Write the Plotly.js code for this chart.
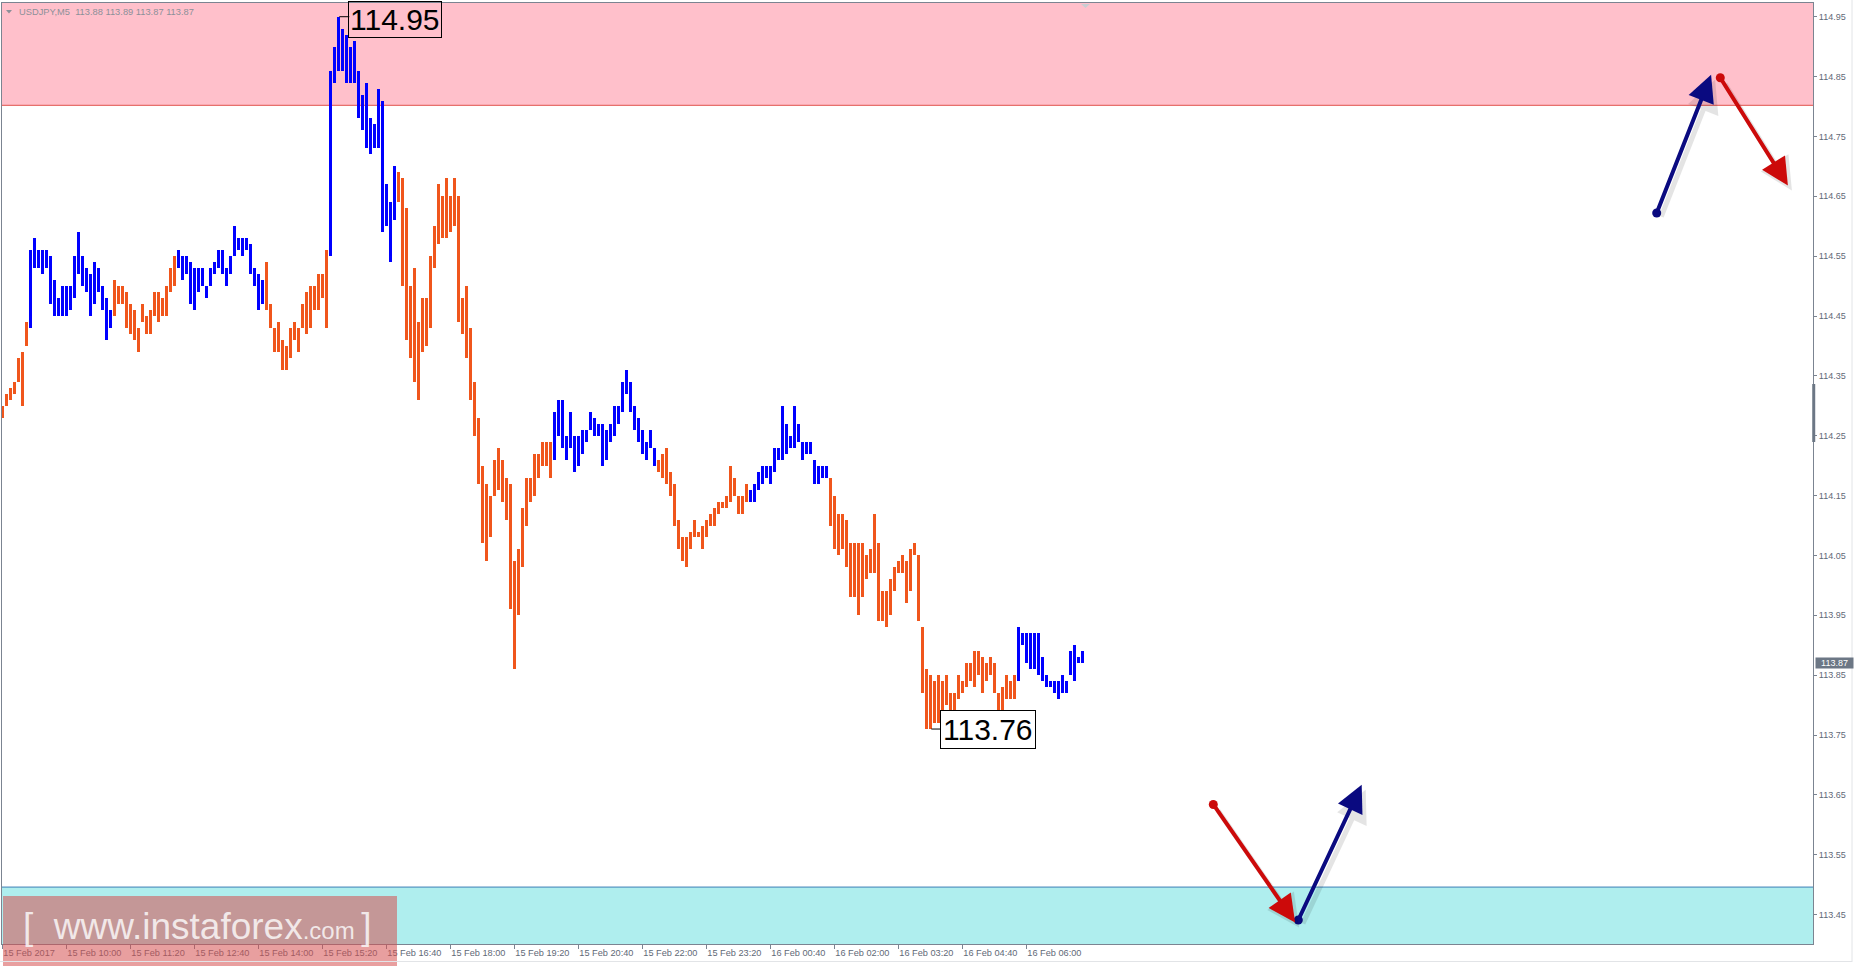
<!DOCTYPE html>
<html><head><meta charset="utf-8">
<script src="https://cdn.plot.ly/plotly-3.0.1.min.js"></script>
<style>html,body{margin:0;padding:0;background:#fff;overflow:hidden}#chart{width:1855px;height:966px}</style>
</head><body><div id="chart"></div>
<script>
// ---- data (USDJPY, M5, bar highs / lows) ----
const symbol = "USDJPY,M5";
const highs = [114.30,114.32,114.33,114.34,114.38,114.39,114.44,114.56,114.58,114.56,
114.56,114.56,114.55,114.51,114.48,114.50,114.50,114.50,114.55,114.59,
114.55,114.53,114.52,114.54,114.53,114.50,114.48,114.46,114.51,114.50,
114.50,114.49,114.47,114.46,114.43,114.47,114.45,114.46,114.49,114.49,
114.48,114.50,114.53,114.55,114.56,114.55,114.55,114.54,114.53,114.53,
114.53,114.50,114.53,114.54,114.56,114.56,114.53,114.55,114.60,114.58,
114.58,114.58,114.57,114.53,114.52,114.51,114.54,114.47,114.43,114.44,
114.41,114.40,114.43,114.44,114.43,114.47,114.49,114.50,114.50,114.52,
114.52,114.56,114.86,114.90,114.95,114.93,114.92,114.90,114.91,114.86,
114.82,114.84,114.78,114.77,114.83,114.81,114.67,114.64,114.70,114.69,
114.68,114.63,114.50,114.53,114.44,114.48,114.48,114.55,114.60,114.67,
114.65,114.68,114.65,114.68,114.65,114.48,114.50,114.43,114.34,114.28,
114.20,114.17,114.15,114.21,114.23,114.21,114.18,114.17,114.04,114.06,
114.13,114.18,114.18,114.22,114.22,114.24,114.24,114.24,114.29,114.31,
114.31,114.25,114.29,114.25,114.25,114.26,114.26,114.29,114.28,114.27,
114.27,114.26,114.27,114.30,114.30,114.34,114.36,114.34,114.30,114.28,
114.26,114.24,114.26,114.23,114.21,114.22,114.23,114.19,114.17,114.11,
114.08,114.08,114.09,114.11,114.09,114.10,114.11,114.12,114.13,114.14,
114.14,114.15,114.20,114.18,114.15,114.15,114.17,114.16,114.17,114.19,
114.20,114.20,114.20,114.23,114.23,114.30,114.27,114.25,114.30,114.27,
114.24,114.24,114.24,114.21,114.20,114.20,114.20,114.18,114.15,114.12,
114.12,114.11,114.07,114.07,114.07,114.07,114.05,114.06,114.12,114.07,
113.99,113.99,114.01,114.03,114.04,114.05,114.04,114.06,114.07,114.05,
113.93,113.86,113.85,113.84,113.85,113.84,113.85,113.82,113.82,113.85,
113.84,113.87,113.87,113.89,113.89,113.88,113.87,113.88,113.87,113.82,
113.83,113.85,113.84,113.85,113.93,113.92,113.92,113.92,113.92,113.92,
113.88,113.85,113.84,113.84,113.84,113.85,113.84,113.89,113.90,113.88,
113.89];
const lows = [114.28,114.30,114.31,114.32,114.34,114.30,114.40,114.43,114.53,114.53,
114.52,114.53,114.47,114.45,114.45,114.45,114.45,114.46,114.48,114.52,
114.50,114.49,114.45,114.47,114.49,114.46,114.41,114.43,114.45,114.47,
114.47,114.43,114.42,114.41,114.39,114.44,114.42,114.42,114.45,114.44,
114.45,114.45,114.49,114.50,114.53,114.51,114.52,114.47,114.46,114.49,
114.50,114.48,114.50,114.52,114.53,114.52,114.50,114.52,114.55,114.56,
114.55,114.56,114.52,114.50,114.46,114.47,114.46,114.43,114.39,114.39,
114.36,114.36,114.38,114.41,114.39,114.43,114.42,114.43,114.46,114.46,
114.48,114.43,114.55,114.84,114.86,114.86,114.84,114.84,114.84,114.78,
114.76,114.73,114.72,114.73,114.73,114.59,114.60,114.54,114.61,114.64,
114.50,114.41,114.38,114.34,114.31,114.39,114.40,114.43,114.53,114.57,
114.58,114.58,114.59,114.60,114.44,114.42,114.38,114.31,114.25,114.17,
114.07,114.04,114.08,114.15,114.16,114.14,114.11,113.96,113.86,113.95,
114.03,114.10,114.14,114.15,114.18,114.20,114.20,114.18,114.21,114.25,
114.23,114.21,114.23,114.19,114.20,114.22,114.24,114.26,114.25,114.25,
114.20,114.21,114.24,114.25,114.27,114.29,114.32,114.29,114.26,114.24,
114.22,114.21,114.23,114.20,114.19,114.18,114.17,114.15,114.10,114.06,
114.04,114.03,114.06,114.08,114.08,114.06,114.08,114.10,114.10,114.12,
114.13,114.13,114.14,114.15,114.12,114.12,114.14,114.14,114.14,114.16,
114.17,114.18,114.17,114.19,114.21,114.21,114.22,114.23,114.23,114.24,
114.21,114.22,114.22,114.17,114.17,114.18,114.18,114.10,114.06,114.05,
114.06,114.03,113.98,113.98,113.95,113.98,114.01,114.02,114.02,113.94,
113.94,113.93,113.95,113.99,114.02,114.02,113.97,113.99,114.05,113.94,
113.82,113.76,113.76,113.77,113.77,113.79,113.80,113.77,113.77,113.81,
113.82,113.83,113.84,113.83,113.85,113.82,113.84,113.85,113.82,113.78,
113.78,113.81,113.81,113.81,113.84,113.90,113.87,113.86,113.86,113.85,
113.84,113.83,113.83,113.82,113.81,113.82,113.82,113.85,113.84,113.87,
113.87];
// zigzag wave legs: first bar index of each leg and its direction
const waveStarts = [0, 7, 28, 44, 66, 82, 99, 138, 164, 187, 207, 254];
const waveDirs   = ["down","up","down","up","down","up","down","up","down","up","down","up"];
const lastOpen = 113.88, lastClose = 113.87;
// time axis: bar index of each label and the label text
const timeTickBars = [0,16,32,48,64,80,96,112,128,144,160,176,192,208,224,240,256];
const timeTickLabels = ["15 Feb 2017","15 Feb 10:00","15 Feb 11:20","15 Feb 12:40","15 Feb 14:00",
  "15 Feb 15:20","15 Feb 16:40","15 Feb 18:00","15 Feb 19:20","15 Feb 20:40","15 Feb 22:00",
  "15 Feb 23:20","16 Feb 00:40","16 Feb 02:00","16 Feb 03:20","16 Feb 04:40","16 Feb 06:00"];
const priceTicks = [113.45,113.55,113.65,113.75,113.85,113.95,114.05,114.15,114.25,114.35,114.45,114.55,114.65,114.75,114.85,114.95];
// zones
const resistanceZone = [114.802, 115.2];
const supportZone = [113.2, 113.496];
// forecast arrows: [bar index, price] tail -> head
const forecastArrows = [
  {dir:"down", from:[302.75,113.634], to:[323.2,113.437]},
  {dir:"up",   from:[324.0,113.441],  to:[339.85,113.667]},
  {dir:"up",   from:[413.6,114.622],  to:[427.2,114.853]},
  {dir:"down", from:[429.5,114.848],  to:[446.4,114.668]}
];

// ---- build ----
const BLUE = "#0000ff", ORANGE = "#f0561c";
const n = highs.length;
const idx = highs.map((_, i) => i);
const colors = idx.map(i => {
  let d = waveDirs[0];
  for (let k = 0; k < waveStarts.length; k++) if (i >= waveStarts[k]) d = waveDirs[k];
  return d === "up" ? BLUE : ORANGE;
});

const L = 2, R = 1813, T = 3, B = 944;
const W = 1855, H = 966;
const px = x => (x - L) / (R - L);
const py = y => (B - y) / (B - T);

const bars = {
  type: "bar", x: idx, base: lows, y: highs.map((h, i) => +(h - lows[i]).toFixed(4)),
  width: 0.74, marker: {color: colors, line: {width: 0}}, hoverinfo: "skip", showlegend: false
};

const dots = {
  type: "scatter", mode: "markers", cliponaxis: false, hoverinfo: "skip", showlegend: false,
  x: forecastArrows.map(a => a.from[0]), y: forecastArrows.map(a => a.from[1]),
  marker: {size: 9, color: forecastArrows.map(a => a.dir === "up" ? "#0a0a80" : "#cc0a0a")}
};

let hi = -1e9, hiI = 0, lo = 1e9, loI = 0;
highs.forEach((h, i) => { if (h > hi) { hi = h; hiI = i; } });
lows.forEach((l, i) => { if (l <= lo) { lo = l; loI = i; } });

const annotations = [];
// soft shadows then arrows
forecastArrows.forEach(a => {
  annotations.push({x: a.to[0], y: a.to[1], ax: a.from[0], ay: a.from[1], xref: "x", yref: "y", axref: "x", ayref: "y",
    text: "", showarrow: true, arrowhead: 2, arrowsize: 1.3, arrowwidth: 5, arrowcolor: "rgba(0,0,0,0.10)",
    standoff: 0, xshift: 4, yshift: -5});
});
forecastArrows.forEach(a => {
  annotations.push({x: a.to[0], y: a.to[1], ax: a.from[0], ay: a.from[1], xref: "x", yref: "y", axref: "x", ayref: "y",
    text: "", showarrow: true, arrowhead: 2, arrowsize: 1.35, arrowwidth: 4,
    arrowcolor: a.dir === "up" ? "#0a0a80" : "#cc0a0a", standoff: 0});
});
// extreme labels
const bigFont = {family: "Liberation Sans, Arial, sans-serif", size: 30, color: "#000"};
annotations.push({x: hiI, y: hi, xref: "x", yref: "y", text: hi.toFixed(2), showarrow: false,
  xanchor: "left", yanchor: "middle", xshift: 10, yshift: -3, font: bigFont,
  bordercolor: "#000", borderwidth: 1, borderpad: 1});
annotations.push({x: loI, y: lo, xref: "x", yref: "y", text: lo.toFixed(2), showarrow: false,
  xanchor: "left", yanchor: "middle", xshift: 10, yshift: 0, font: bigFont, bgcolor: "#fff",
  bordercolor: "#000", borderwidth: 1, borderpad: 2});
// header
annotations.push({xref: "paper", yref: "paper", x: px(17), y: py(12), xanchor: "left", yanchor: "middle",
  showarrow: false, text: symbol + "\u00a0\u00a0" + [lastOpen, highs[n-1], lows[n-1], lastClose].map(v => v.toFixed(2)).join(" "),
  font: {family: "Liberation Sans, Arial, sans-serif", size: 9.3, color: "#8c9099"}});
// current price tag
annotations.push({xref: "paper", yref: "y", x: 1, y: lastClose, xanchor: "left", yanchor: "middle", xshift: 2,
  showarrow: false, text: lastClose.toFixed(2), bgcolor: "#6c7785", width: 37, height: 10, borderpad: 0,
  font: {family: "Liberation Sans, Arial, sans-serif", size: 9, color: "#fff"}});
// watermark
annotations.push({xref: "paper", yref: "paper", x: px(21), y: py(926), xanchor: "left", yanchor: "middle",
  showarrow: false, text: "[\u00a0\u00a0www.instaforex<span style='font-size:24px'>.com\u00a0</span>]",
  font: {family: "Liberation Sans, Arial, sans-serif", size: 37, color: "rgba(248,244,244,0.88)"}});

const shapes = [
  {type: "rect", layer: "below", xref: "paper", yref: "y", x0: 0, x1: 1, y0: resistanceZone[0], y1: resistanceZone[1],
    fillcolor: "#ffc0cb", line: {width: 0}},
  {type: "line", layer: "below", xref: "paper", yref: "y", x0: 0, x1: 1, y0: resistanceZone[0], y1: resistanceZone[0],
    line: {color: "#e0504a", width: 1}},
  {type: "rect", layer: "below", xref: "paper", yref: "y", x0: 0, x1: 1, y0: supportZone[0], y1: supportZone[1],
    fillcolor: "#afeeee", line: {width: 0}},
  {type: "line", layer: "below", xref: "paper", yref: "y", x0: 0, x1: 1, y0: supportZone[1], y1: supportZone[1],
    line: {color: "#3d7fb5", width: 1}},
  // connectors to extreme labels
  {type: "line", xref: "x", yref: "y", xsizemode: "pixel", xanchor: hiI, x0: 1, x1: 11, y0: hi, y1: hi, line: {color: "#000", width: 1}},
  {type: "line", xref: "x", yref: "y", xsizemode: "pixel", xanchor: loI, x0: 1, x1: 11, y0: lo, y1: lo, line: {color: "#000", width: 1}},
  // watermark box
  {type: "rect", layer: "above", xref: "paper", yref: "paper", x0: px(3), x1: px(397), y0: py(968), y1: py(896),
    fillcolor: "rgba(213,80,80,0.55)", line: {width: 0}},
  // axis scroll marker
  {type: "line", xref: "paper", yref: "paper", x0: 1.0004, x1: 1.0004, y0: py(384), y1: py(442), line: {color: "#6c7785", width: 3}},
  // chart shift triangle
  {type: "path", xref: "paper", yref: "paper", path: `M ${px(1081)} ${py(4)} L ${px(1090)} ${py(4)} L ${px(1085.5)} ${py(8)} Z`,
    fillcolor: "#c9cdd2", line: {width: 0}},
  // header triangle
  {type: "path", xref: "paper", yref: "paper", path: `M ${px(6)} ${py(10)} L ${px(12)} ${py(10)} L ${px(9)} ${py(13.5)} Z`,
    fillcolor: "#8c9099", line: {width: 0}},
  // window edges
  {type: "line", xref: "paper", yref: "paper", x0: px(1852), x1: px(1852), y0: py(0), y1: py(962), line: {color: "#e2e4e7", width: 1}},
  {type: "line", xref: "paper", yref: "paper", x0: px(0), x1: px(1852), y0: py(961.5), y1: py(961.5), line: {color: "#e2e4e7", width: 1}}
];

const axisFont = {family: "Liberation Sans, Arial, sans-serif", size: 9.2, color: "#5f6977"};
const layout = {
  width: W, height: H, margin: {l: L, r: W - R, t: T, b: H - B, pad: 0},
  paper_bgcolor: "#fff", plot_bgcolor: "#fff", showlegend: false, dragmode: false,
  bargap: 0,
  xaxis: {range: [(L - 2.3) / 4, (R - 2.3) / 4], tickmode: "array", tickvals: timeTickBars, ticktext: timeTickLabels,
    ticks: "outside", ticklen: 4, tickcolor: "#7b8491", tickwidth: 1, ticklabelposition: "outside right",
    showgrid: false, zeroline: false, showline: true, mirror: true, linecolor: "#7b8491", linewidth: 1,
    tickfont: axisFont, fixedrange: true},
  yaxis: {range: [113.4009, 114.9729], side: "right", tickmode: "array", tickvals: priceTicks,
    ticktext: priceTicks.map(v => v.toFixed(2)), ticks: "outside", ticklen: 3, tickcolor: "#7b8491",
    showgrid: false, zeroline: false, showline: true, mirror: true, linecolor: "#7b8491", linewidth: 1,
    tickfont: {family: "Liberation Sans, Arial, sans-serif", size: 9, color: "#5f6977"}, fixedrange: true},
  shapes: shapes, annotations: annotations
};
Plotly.newPlot("chart", [bars, dots], layout, {staticPlot: true, displayModeBar: false});
</script></body></html>
